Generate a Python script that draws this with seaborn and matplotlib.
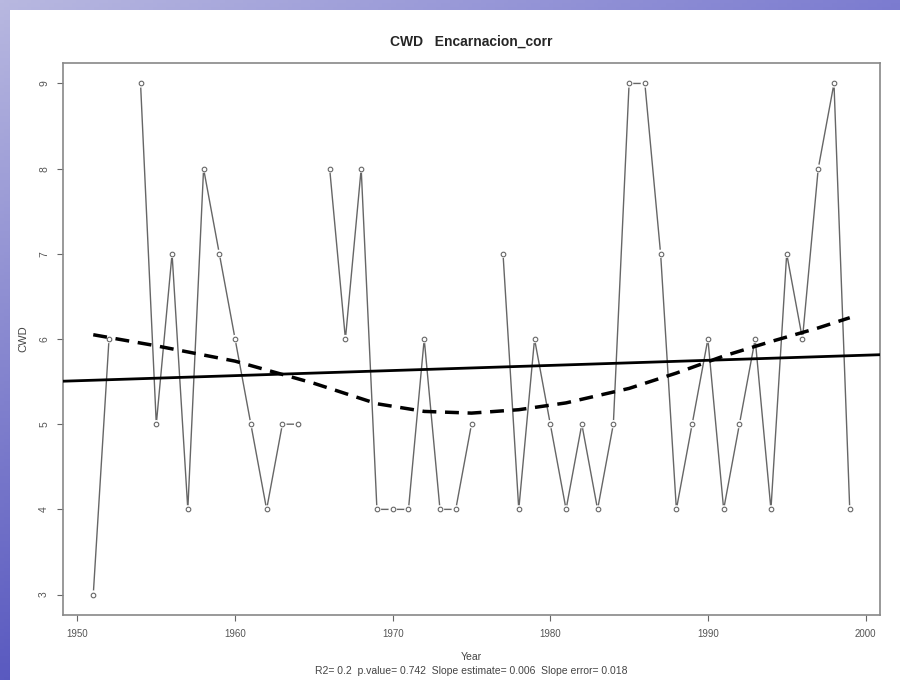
import numpy as np
import pandas as pd
import matplotlib
matplotlib.use("Agg")
import matplotlib.pyplot as plt
from matplotlib.patches import Rectangle
import seaborn as sns

# CWD series, one value per year (nan = missing year)
years = list(range(1951, 2000))
cwd = [3, 6, np.nan, 9, 5, 7, 4, 8, 7, 6,
       5, 4, 5, 5, np.nan, 8, 6, 8, 4, 4,
       4, 6, 4, 4, 5, np.nan, 7, 4, 6, 5,
       4, 5, 4, 5, 9, 9, 7, 4, 5, 6,
       4, 5, 6, 4, 7, 6, 8, 9, 4]

# smooth curve (dashed)
smooth_years = [1951, 1955, 1960, 1965, 1969, 1972, 1975, 1978, 1981, 1985, 1988, 1991, 1994, 1997, 1999]
smooth_vals = [6.05, 5.92, 5.74, 5.48, 5.24, 5.15, 5.13, 5.17, 5.25, 5.42, 5.60, 5.80, 5.97, 6.13, 6.25]

# linear trend
trend_at_1950 = 5.51
trend_slope = 0.006

xticks = [1950, 1960, 1970, 1980, 1990, 2000]
yticks = [3, 4, 5, 6, 7, 8, 9]
title = "CWD   Encarnacion_corr"
stats_line = "R2= 0.2  p.value= 0.742  Slope estimate= 0.006  Slope error= 0.018"

sns.set_style("white")
plt.rcParams["font.family"] = ["Liberation Sans", "DejaVu Sans"]

df = pd.DataFrame({"year": years, "cwd": cwd})
df["seg"] = df["cwd"].isna().cumsum()
df = df.dropna()
smooth = pd.DataFrame({"year": smooth_years, "val": smooth_vals})

fig = plt.figure(figsize=(9, 6.8), dpi=100)

# slide background gradient
bg = fig.add_axes([0, 0, 1, 1], zorder=-10)
xf = np.linspace(0, 1, 200)[None, :, None]
yf = np.linspace(0, 1, 200)[:, None, None]
tl = np.array([0xb8, 0xb8, 0xe0]) / 255
tr = np.array([0x7c, 0x7c, 0xd0]) / 255
bl = np.array([0x5a, 0x5a, 0xc0]) / 255
grad = np.clip(tl + (tr - tl) * xf + (bl - tl) * yf, 0, 1)
bg.imshow(grad, aspect="auto", extent=[0, 1, 0, 1], origin="upper")
bg.set_axis_off()
fig.patches.append(Rectangle((10 / 900, 0), 1, 1 - 10 / 680, transform=fig.transFigure,
                             facecolor="white", edgecolor="none", zorder=-5))

ax = fig.add_axes([63 / 900, 65 / 680, 817 / 900, 552 / 680])
ax.set_facecolor("white")

sns.lineplot(data=df, x="year", y="cwd", units="seg", estimator=None,
             color="#666666", linewidth=1, ax=ax, zorder=2)
sns.scatterplot(data=df, x="year", y="cwd", s=36, color="white",
                edgecolor="none", linewidth=0, ax=ax, zorder=3)
sns.scatterplot(data=df, x="year", y="cwd", s=11, facecolor="white",
                edgecolor="#666666", linewidth=0.8, ax=ax, zorder=4)

sns.lineplot(data=smooth, x="year", y="val", color="black", linewidth=2.5,
             linestyle=(0, (4, 2.5)), ax=ax, zorder=5)
ax.axline((1950, trend_at_1950), slope=trend_slope, color="black", linewidth=2, zorder=5)

ax.set_xlim(1949.08, 2000.92)
ax.set_ylim(2.76, 9.24)
ax.set_xticks(xticks)
ax.set_yticks(yticks)
ax.set_xticklabels([str(t) for t in xticks], fontsize=7, color="#555555")
ax.set_yticklabels([str(t) for t in yticks], fontsize=7.5, color="#555555", rotation=90, va="center")
ax.tick_params(direction="out", length=4, width=0.8, color="#666666", pad=6,
               bottom=True, left=True)
for sp in ax.spines.values():
    sp.set_color("#888888")
    sp.set_linewidth(1.2)

ax.set_xlabel("")
ax.set_ylabel("CWD", fontsize=8, color="#444444", labelpad=8)
fig.text(471 / 900, 1 - 42 / 680, title, ha="center", va="center",
         fontsize=10, fontweight="bold")
fig.text(471 / 900, 1 - 657 / 680, "Year", ha="center", va="center", fontsize=7.5, color="#444444")
fig.text(471 / 900, 1 - 671 / 680, stats_line, ha="center", va="center", fontsize=7.5, color="#444444")

fig.savefig("out.png", dpi=100)
